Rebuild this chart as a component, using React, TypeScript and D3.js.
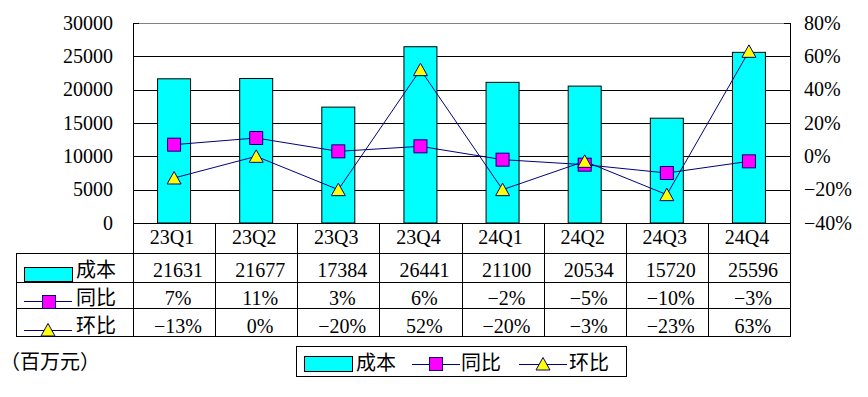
import React, { useEffect, useRef } from 'react';
import * as d3 from 'd3';

const categories = ['23Q1', '23Q2', '23Q3', '23Q4', '24Q1', '24Q2', '24Q3', '24Q4'];
const costValues = [21631, 21677, 17384, 26441, 21100, 20534, 15720, 25596];
const yoyValues = [7, 11, 3, 6, -2, -5, -10, -3];
const qoqValues = [-13, 0, -20, 52, -20, -3, -23, 63];
const leftTicks = [0, 5000, 10000, 15000, 20000, 25000, 30000];
const rightTicks = [-40, -20, 0, 20, 40, 60, 80];
const seriesNames = ['成本', '同比', '环比'];
const unitLabel = '（百万元）';

const W = 868;
const H = 397;

const App: React.FC = () => {
  const svgRef = useRef<SVGSVGElement>(null);

  useEffect(() => {
    if (!svgRef.current) return;
    const svg = d3.select(svgRef.current);
    svg.selectAll('*').remove();

    const colors = {
      bar: '#00ffff',
      square: '#ff00ff',
      tri: '#ffff00',
      line: '#000080',
      text: '#000000',
      grid: '#000000',
      border: '#808080'
    };
    const font = "'Liberation Serif', 'Noto Sans CJK SC', serif";
    const fs = '20px';

    const plot = { left: 133, right: 790, top: 23, bottom: 223 };
    const tableLeft = 16;
    const rows = { header: 223, cost: 253, yoy: 281.7, qoq: 308.3, end: 336 };

    svg.append('rect').attr('width', W).attr('height', H).attr('fill', '#fff');

    const x = d3.scaleBand().domain(categories).range([plot.left, plot.right]).padding(0);
    const yL = d3.scaleLinear().domain([0, 30000]).range([plot.bottom, plot.top]);
    const yR = d3.scaleLinear().domain([-40, 80]).range([plot.bottom, plot.top]);
    const cx = (c: string) => (x(c) || 0) + x.bandwidth() / 2;
    const barW = 33;

    // grid
    svg.append('g')
      .selectAll('line')
      .data(leftTicks.filter(t => t > 0 && t < 30000))
      .enter().append('line')
      .attr('x1', plot.left).attr('x2', plot.right)
      .attr('y1', d => Math.round(yL(d)) + 0.5).attr('y2', d => Math.round(yL(d)) + 0.5)
      .attr('stroke', colors.grid);
    svg.append('line')
      .attr('x1', plot.left).attr('x2', plot.right)
      .attr('y1', plot.top + 0.5).attr('y2', plot.top + 0.5)
      .attr('stroke', colors.border);

    // bars
    svg.append('g')
      .selectAll('rect')
      .data(categories)
      .enter().append('rect')
      .attr('x', (c) => cx(c) - barW / 2)
      .attr('y', (c, i) => yL(costValues[i]))
      .attr('width', barW)
      .attr('height', (c, i) => plot.bottom - yL(costValues[i]))
      .attr('fill', colors.bar)
      .attr('stroke', '#000')
      .attr('stroke-width', 1);

    // axes
    svg.append('line').attr('x1', plot.left + 0.5).attr('x2', plot.left + 0.5)
      .attr('y1', plot.top).attr('y2', rows.end).attr('stroke', '#000');
    svg.append('line').attr('x1', plot.right + 0.5).attr('x2', plot.right + 0.5)
      .attr('y1', plot.top).attr('y2', rows.end).attr('stroke', '#000');
    svg.append('g').selectAll('line').data(leftTicks).enter().append('line')
      .attr('x1', plot.left).attr('x2', plot.left + 6)
      .attr('y1', d => Math.round(yL(d)) + 0.5).attr('y2', d => Math.round(yL(d)) + 0.5)
      .attr('stroke', '#000');
    svg.append('g').selectAll('line').data(rightTicks).enter().append('line')
      .attr('x1', plot.right - 6).attr('x2', plot.right)
      .attr('y1', d => Math.round(yR(d)) + 0.5).attr('y2', d => Math.round(yR(d)) + 0.5)
      .attr('stroke', '#000');

    svg.append('g').selectAll('text').data(leftTicks).enter().append('text')
      .attr('x', 113).attr('y', d => yL(d)).attr('dy', '0.33em')
      .attr('text-anchor', 'end')
      .attr('font-family', font).attr('font-size', fs).attr('fill', colors.text)
      .text(d => String(d));
    svg.append('g').selectAll('text').data(rightTicks).enter().append('text')
      .attr('x', 804).attr('y', d => yR(d)).attr('dy', '0.33em')
      .attr('text-anchor', 'start')
      .attr('font-family', font).attr('font-size', fs).attr('fill', colors.text)
      .text(d => d3.format('d')(d) + '%');

    // lines
    const line = d3.line<number>()
      .x((d, i) => cx(categories[i]))
      .y(d => yR(d));
    svg.append('path').datum(yoyValues).attr('d', line)
      .attr('fill', 'none').attr('stroke', colors.line).attr('stroke-width', 1);
    svg.append('path').datum(qoqValues).attr('d', line)
      .attr('fill', 'none').attr('stroke', colors.line).attr('stroke-width', 1);

    const sq = 13;
    const drawSquare = (g: any, px: number, py: number) =>
      g.append('rect')
        .attr('x', px - sq / 2).attr('y', py - sq / 2)
        .attr('width', sq).attr('height', sq)
        .attr('fill', colors.square).attr('stroke', colors.line).attr('stroke-width', 1);
    const drawTri = (g: any, px: number, py: number) =>
      g.append('path')
        .attr('d', `M${px},${py - 6.5}L${px + 7},${py + 6}L${px - 7},${py + 6}Z`)
        .attr('fill', colors.tri).attr('stroke', colors.line).attr('stroke-width', 1);

    const marks = svg.append('g');
    yoyValues.forEach((v, i) => drawSquare(marks, cx(categories[i]), yR(v)));
    qoqValues.forEach((v, i) => drawTri(marks, cx(categories[i]), yR(v)));

    // data table
    const tbl = svg.append('g').attr('stroke', '#000').attr('stroke-width', 1);
    [rows.cost, rows.yoy, rows.qoq, rows.end].forEach(r => {
      tbl.append('line').attr('x1', tableLeft).attr('x2', plot.right + 1)
        .attr('y1', Math.round(r) + 0.5).attr('y2', Math.round(r) + 0.5);
    });
    tbl.append('line').attr('x1', plot.left).attr('x2', plot.right + 1)
      .attr('y1', rows.header + 0.5).attr('y2', rows.header + 0.5);
    tbl.append('line').attr('x1', tableLeft + 0.5).attr('x2', tableLeft + 0.5)
      .attr('y1', rows.cost).attr('y2', rows.end + 1);
    categories.slice(1).forEach(c => {
      const xx = Math.round(x(c) || 0) + 0.5;
      tbl.append('line').attr('x1', xx).attr('x2', xx).attr('y1', rows.header).attr('y2', rows.end);
    });

    const txt = svg.append('g')
      .attr('font-family', font).attr('font-size', fs).attr('fill', colors.text);
    const pct = (v: number) => d3.format('d')(v) + '%';
    categories.forEach((c, i) => {
      txt.append('text').attr('x', cx(c) - 2).attr('y', 244).attr('text-anchor', 'middle').text(c);
      txt.append('text').attr('x', cx(c) + 4).attr('y', 277).attr('text-anchor', 'middle').text(String(costValues[i]));
      txt.append('text').attr('x', cx(c) + 4).attr('y', 305).attr('text-anchor', 'middle').text(pct(yoyValues[i]));
      txt.append('text').attr('x', cx(c) + 4).attr('y', 333).attr('text-anchor', 'middle').text(pct(qoqValues[i]));
    });

    // row keys
    const keys = svg.append('g');
    keys.append('rect').attr('x', 24.5).attr('y', 267.5).attr('width', 48).attr('height', 14)
      .attr('fill', colors.bar).attr('stroke', '#000');
    keys.append('line').attr('x1', 24).attr('x2', 72).attr('y1', 301.5).attr('y2', 301.5).attr('stroke', colors.line);
    drawSquare(keys, 49, 302);
    keys.append('line').attr('x1', 24).attr('x2', 72).attr('y1', 330.5).attr('y2', 330.5).attr('stroke', colors.line);
    drawTri(keys, 48, 330);
    txt.append('text').attr('x', 76).attr('y', 277).text(seriesNames[0]);
    txt.append('text').attr('x', 76).attr('y', 305).text(seriesNames[1]);
    txt.append('text').attr('x', 76).attr('y', 333).text(seriesNames[2]);

    // unit label
    txt.append('text').attr('x', 0).attr('y', 369).text(unitLabel);

    // legend
    const lg = svg.append('g');
    lg.append('rect').attr('x', 296.5).attr('y', 346.5).attr('width', 330).attr('height', 30)
      .attr('fill', '#fff').attr('stroke', '#000');
    lg.append('rect').attr('x', 304.5).attr('y', 356.5).attr('width', 48).attr('height', 15)
      .attr('fill', colors.bar).attr('stroke', '#000');
    lg.append('line').attr('x1', 412).attr('x2', 460).attr('y1', 364.5).attr('y2', 364.5).attr('stroke', colors.line);
    drawSquare(lg, 436, 364);
    lg.append('line').attr('x1', 519).attr('x2', 567).attr('y1', 364.5).attr('y2', 364.5).attr('stroke', colors.line);
    drawTri(lg, 543, 364);
    const lgText = lg.append('g')
      .attr('font-family', font).attr('font-size', fs).attr('fill', colors.text);
    lgText.append('text').attr('x', 356).attr('y', 370).text(seriesNames[0]);
    lgText.append('text').attr('x', 461).attr('y', 370).text(seriesNames[1]);
    lgText.append('text').attr('x', 569).attr('y', 370).text(seriesNames[2]);
  }, []);

  return (
    <svg
      ref={svgRef}
      width={W}
      height={H}
      viewBox={`0 0 ${W} ${H}`}
      style={{ position: 'absolute', left: 0, top: 0, display: 'block' }}
    />
  );
};

export default App;
